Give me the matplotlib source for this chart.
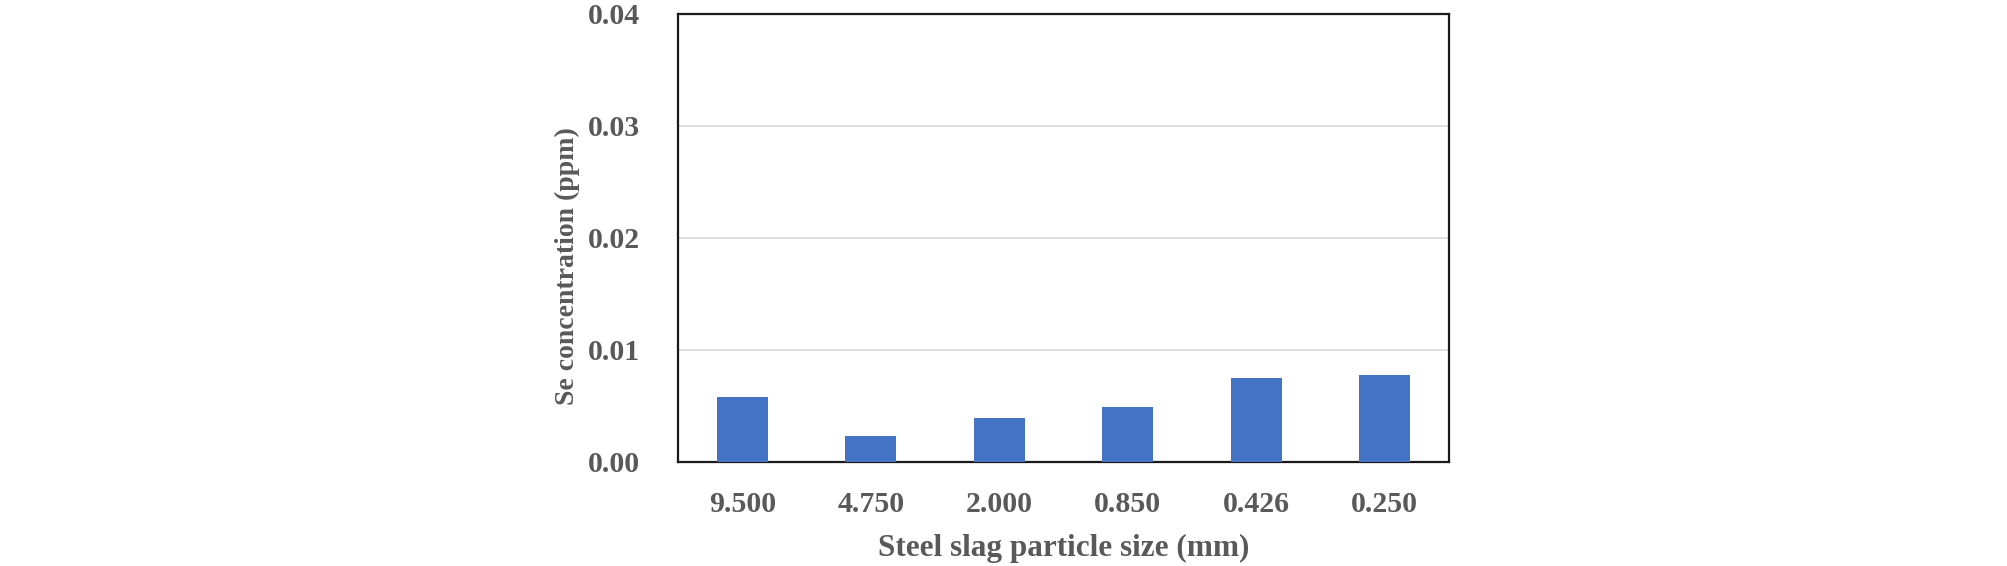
import matplotlib
matplotlib.use("Agg")
import matplotlib.pyplot as plt

categories = ["9.500", "4.750", "2.000", "0.850", "0.426", "0.250"]
se_ppm = [0.0058, 0.0023, 0.0039, 0.0049, 0.0075, 0.0078]
yticks = [0.00, 0.01, 0.02, 0.03, 0.04]
ytick_labels = ["0.00", "0.01", "0.02", "0.03", "0.04"]

plt.rcParams['font.family'] = ['Liberation Serif', 'DejaVu Serif']
grey = "#595959"

fig = plt.figure(figsize=(20.08, 5.66), dpi=100)
ax = fig.add_axes([678/2008, 1 - 462/566, (1449-678)/2008, (462-14)/566])

x = list(range(len(categories)))
ax.bar(x, se_ppm, width=0.4, color="#4472C4", zorder=3)
ax.set_xlim(-0.5, len(categories) - 0.5)
ax.set_ylim(0, 0.04)
ax.set_yticks(yticks)
ax.set_yticklabels(ytick_labels)
ax.set_xticks(x)
ax.set_xticklabels(categories)
ax.grid(axis="y", color="#d9d9d9", linewidth=1.2, zorder=0)
ax.tick_params(length=0, labelsize=21.5, colors=grey)
ax.tick_params(axis="y", pad=27)
ax.tick_params(axis="x", pad=21)
for lbl in ax.get_xticklabels() + ax.get_yticklabels():
    lbl.set_fontweight("bold")
for s in ax.spines.values():
    s.set_color("#1a1a1a")
    s.set_linewidth(1.6)
ax.set_xlabel("Steel slag particle size (mm)", fontsize=22.5, fontweight="bold", color=grey, labelpad=11)
ax.set_ylabel("Se concentration (ppm)", fontsize=20, fontweight="bold", color=grey)
ax.yaxis.set_label_coords(-0.127, 0.4375)

fig.savefig("out.png", dpi=100)
